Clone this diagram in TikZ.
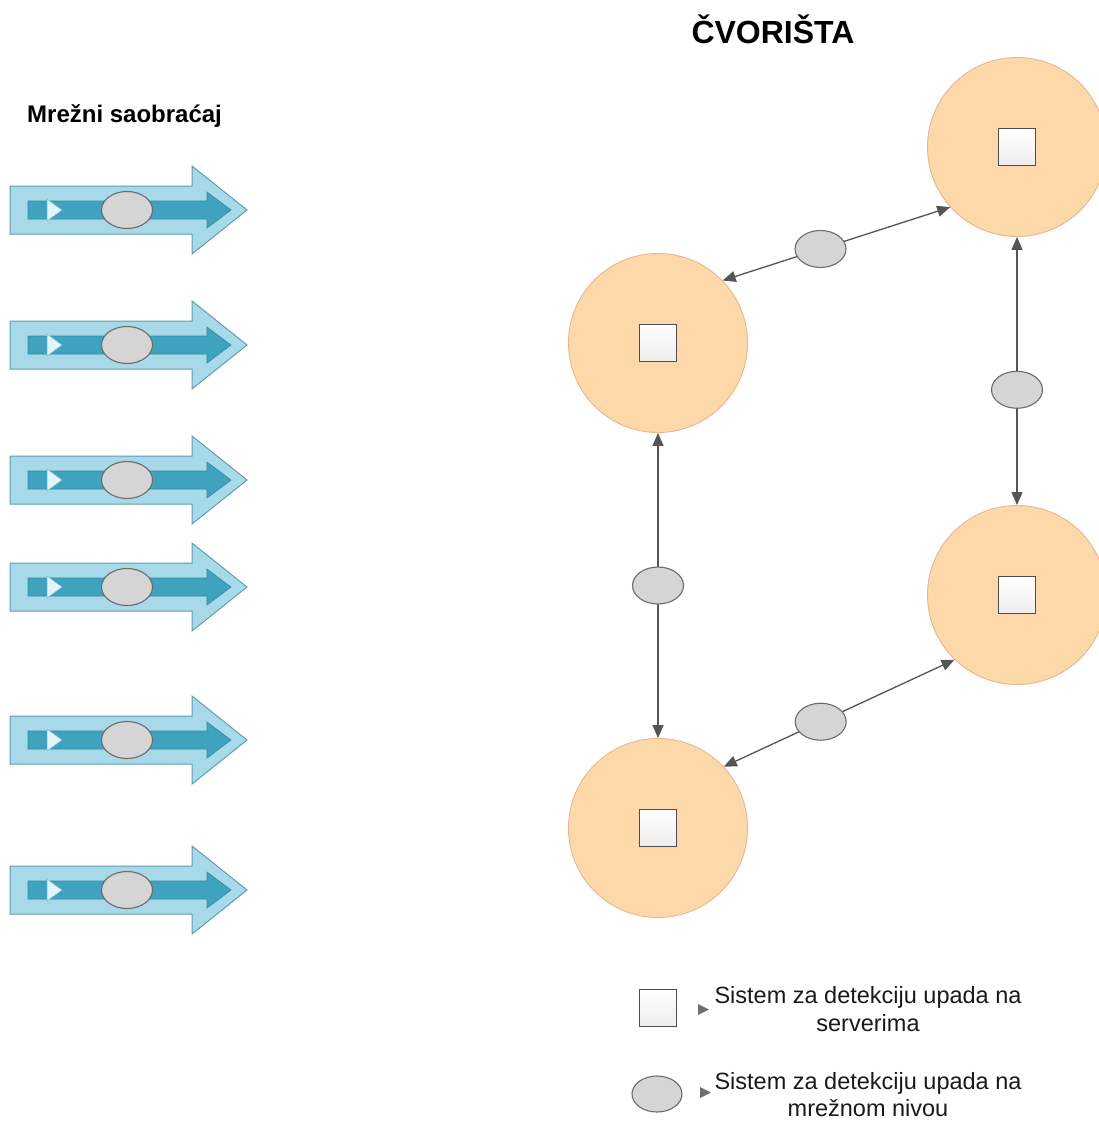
\documentclass[tikz,border=0pt]{standalone}
\usepackage{fontspec}
\setmainfont{Liberation Sans}
\usetikzlibrary{shapes.geometric,arrows.meta}

\definecolor{flowout}{HTML}{A8D9E9}
\definecolor{flowoutline}{HTML}{5A9EB5}
\definecolor{flowin}{HTML}{3FA3BF}
\definecolor{flowinline}{HTML}{2E8AA5}
\definecolor{flowtri}{HTML}{E2F6FA}
\definecolor{nidsfill}{HTML}{D5D5D5}
\definecolor{nidsline}{HTML}{6B6B6B}
\definecolor{hubfill}{HTML}{FDD9AA}
\definecolor{hubline}{HTML}{EBB48E}
\definecolor{hidsline}{HTML}{4D4D4D}
\definecolor{connline}{HTML}{555555}

\tikzset{
  hub/.style={circle, minimum size=179pt, inner sep=0pt, fill=hubfill, draw=hubline, line width=0.9pt},
  hids/.style={rectangle, minimum size=37pt, inner sep=0pt, top color=white, bottom color=black!7, draw=hidsline, line width=1.4pt},
  nids/.style={ellipse, minimum width=51pt, minimum height=37pt, inner sep=0pt, fill=nidsfill, draw=nidsline, line width=1.1pt},
  conn/.style={draw=connline, line width=1.3pt, {Triangle[length=13pt,width=11pt]}-{Triangle[length=13pt,width=11pt]}},
  flowouter/.style={fill=flowout, draw=flowoutline, line width=1pt, line join=miter},
  flowinner/.style={fill=flowin, draw=flowinline, line width=0.6pt},
  flowmark/.style={fill=flowtri, draw=flowinline!60, line width=0.5pt},
  legmark/.style={fill=connline!85, draw=none},
  titletext/.style={font=\bfseries\fontsize{32}{36}\selectfont, inner sep=0pt},
  headtext/.style={font=\bfseries\fontsize{24}{28}\selectfont, inner sep=0pt},
  legtext/.style={font=\fontsize{23.5}{28}\selectfont, inner sep=0pt, text=black!90},
}

\begin{document}
\begin{tikzpicture}[x=1pt, y=-1pt]
  \useasboundingbox (0,0) rectangle (1099,1121);

  % headings
  \node[titletext, anchor=base] (title) at (773,44) {ČVORIŠTA};
  \node[headtext, anchor=base west] (traffic) at (27,123) {Mrežni saobraćaj};

  % traffic flows, each watched by a network sensor
  \foreach \y/\n in {210/f1, 345/f2, 480/f3, 587/f4, 740/f5, 890/f6} {
    \draw[flowouter] (10,\y-24) -- (192,\y-24) -- (192,\y-44) -- (247,\y)
                     -- (192,\y+44) -- (192,\y+24) -- (10,\y+24) -- cycle;
    \draw[flowinner] (28,\y-9) -- (207,\y-9) -- (207,\y-18) -- (231,\y)
                     -- (207,\y+18) -- (207,\y+9) -- (28,\y+9) -- cycle;
    \draw[flowmark] (47,\y-11) -- (62,\y) -- (47,\y+11) -- cycle;
    \node[nids] (\n) at (127,\y) {};
  }

  % hubs with host sensors
  \node[hub] (A) at (1017,147) {};
  \node[hub] (B) at (658,343) {};
  \node[hub] (C) at (1017,595) {};
  \node[hub] (D) at (658,828) {};
  \node[hids] (sA) at (A) {};
  \node[hids] (sB) at (B) {};
  \node[hids] (sC) at (C) {};
  \node[hids] (sD) at (D) {};

  % links between hubs, each with a network sensor
  \draw[conn] (B.44) -- (A.222) node[nids, pos=0.43] (nAB) {};
  \draw[conn] (A.south) -- (C.north) node[nids, pos=0.57] (nAC) {};
  \draw[conn] (B.south) -- (D.north) node[nids, pos=0.5] (nBD) {};
  \draw[conn] (D.43) -- (C.226) node[nids, pos=0.42] (nCD) {};

  % legend
  \node[hids] (legS) at (658,1008) {};
  \draw[legmark] (698,1004) -- (709,1009.5) -- (698,1015) -- cycle;
  \node[legtext, anchor=base] (legS1) at (868,1003) {Sistem za detekciju upada na};
  \node[legtext, anchor=base] (legS2) at (868,1031) {serverima};

  \node[nids, minimum width=50pt, minimum height=36pt] (legN) at (657,1094) {};
  \draw[legmark] (700,1087) -- (711,1092.5) -- (700,1098) -- cycle;
  \node[legtext, anchor=base] (legN1) at (868,1089) {Sistem za detekciju upada na};
  \node[legtext, anchor=base] (legN2) at (868,1116) {mrežnom nivou};
\end{tikzpicture}
\end{document}
